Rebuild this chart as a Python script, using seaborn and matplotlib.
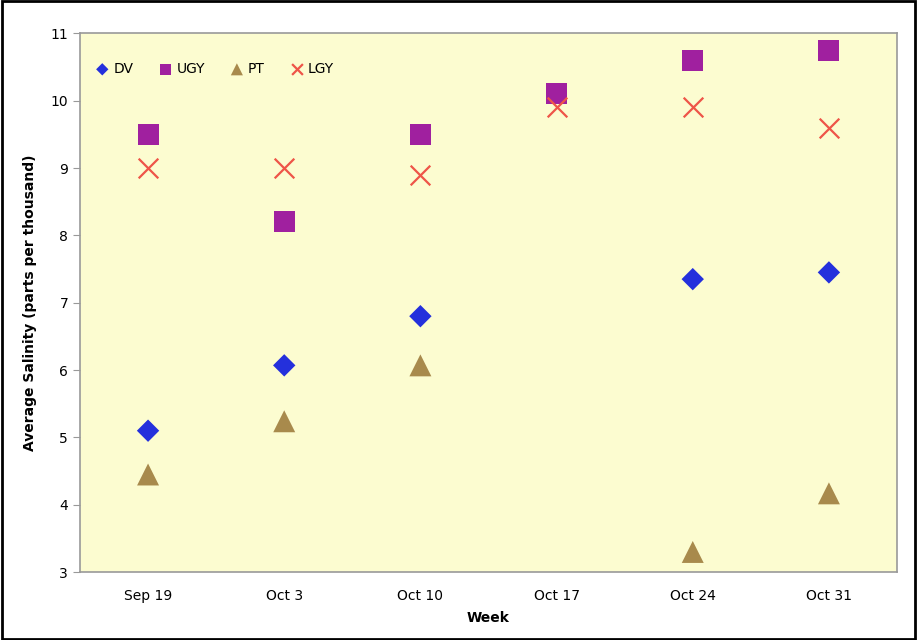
import numpy as np
import pandas as pd
import matplotlib
matplotlib.use("Agg")
import matplotlib.pyplot as plt
import seaborn as sns

weeks = ["Sep 19", "Oct 3", "Oct 10", "Oct 17", "Oct 24", "Oct 31"]
dv = [5.1, 6.07, 6.8, np.nan, 7.35, 7.45]
ugy = [9.5, 8.2, 9.5, 10.1, 10.6, 10.75]
pt = [4.45, 5.24, 6.07, np.nan, 3.3, 4.17]
lgy = [9.0, 9.0, 8.9, 9.9, 9.9, 9.6]

series = {"DV": dv, "UGY": ugy, "PT": pt, "LGY": lgy}
colors = {"DV": "#2430DC", "UGY": "#A0209F", "PT": "#A88A4C", "LGY": "#EE5548"}
markers = {"DV": "D", "UGY": "s", "PT": "^", "LGY": "x"}
sizes = {"DV": 130, "UGY": 230, "PT": 250, "LGY": 200}

rows = []
for name, vals in series.items():
    for i, (w, v) in enumerate(zip(weeks, vals)):
        rows.append({"pos": i, "week": w, "series": name, "salinity": v})
df = pd.DataFrame(rows).dropna()

sns.set_style("white")
plt.rcParams["font.family"] = ["DejaVu Sans"]
plt.rcParams["text.color"] = "black"
plt.rcParams["axes.labelcolor"] = "black"
plt.rcParams["xtick.color"] = "black"
plt.rcParams["ytick.color"] = "black"

fig = plt.figure(figsize=(9.17, 6.4), dpi=100)
ax = fig.add_axes([0.0872, 0.106, 0.891, 0.842])
ax.set_facecolor("#FCFCD0")

for name in series:
    sub = df[df["series"] == name]
    kw = dict(linewidth=1.6) if markers[name] == "x" else dict(edgecolor="none")
    sns.scatterplot(data=sub, x="pos", y="salinity", ax=ax, color=colors[name],
                    marker=markers[name], s=sizes[name], label=name, zorder=3, **kw)

ax.set_xlim(-0.5, len(weeks) - 0.5)
ax.set_ylim(3, 11)
ax.set_yticks(range(3, 12))
ax.set_xticks(np.arange(-0.5, len(weeks), 1.0))
ax.set_xticklabels([])
ax.set_xticks(range(len(weeks)), minor=True)
ax.set_xticklabels(weeks, minor=True)
ax.tick_params(axis="x", which="major", length=5, color="#999999", direction="out")
ax.tick_params(axis="x", which="minor", length=0, pad=12, labelsize=10)
ax.tick_params(axis="y", length=5, color="#999999", direction="out", labelsize=10, left=True)

for sp in ax.spines.values():
    sp.set_color("#999999")
    sp.set_linewidth(1.2)

ax.set_xlabel("Week", fontweight="bold", fontsize=10, labelpad=6)
ax.set_ylabel("Average Salinity (parts per thousand)", fontweight="bold", fontsize=10, labelpad=10)

leg = ax.legend(ncol=4, loc="upper left", bbox_to_anchor=(-0.005, 0.97), frameon=False,
                fontsize=10, handletextpad=-0.2, columnspacing=1.3, markerscale=0.55)

# black frame around the whole figure
fig.patches.append(plt.Rectangle((0.002, 0.002), 0.996, 0.996, transform=fig.transFigure,
                                 fill=False, edgecolor="black", linewidth=2))

fig.savefig("out.png", dpi=100)
